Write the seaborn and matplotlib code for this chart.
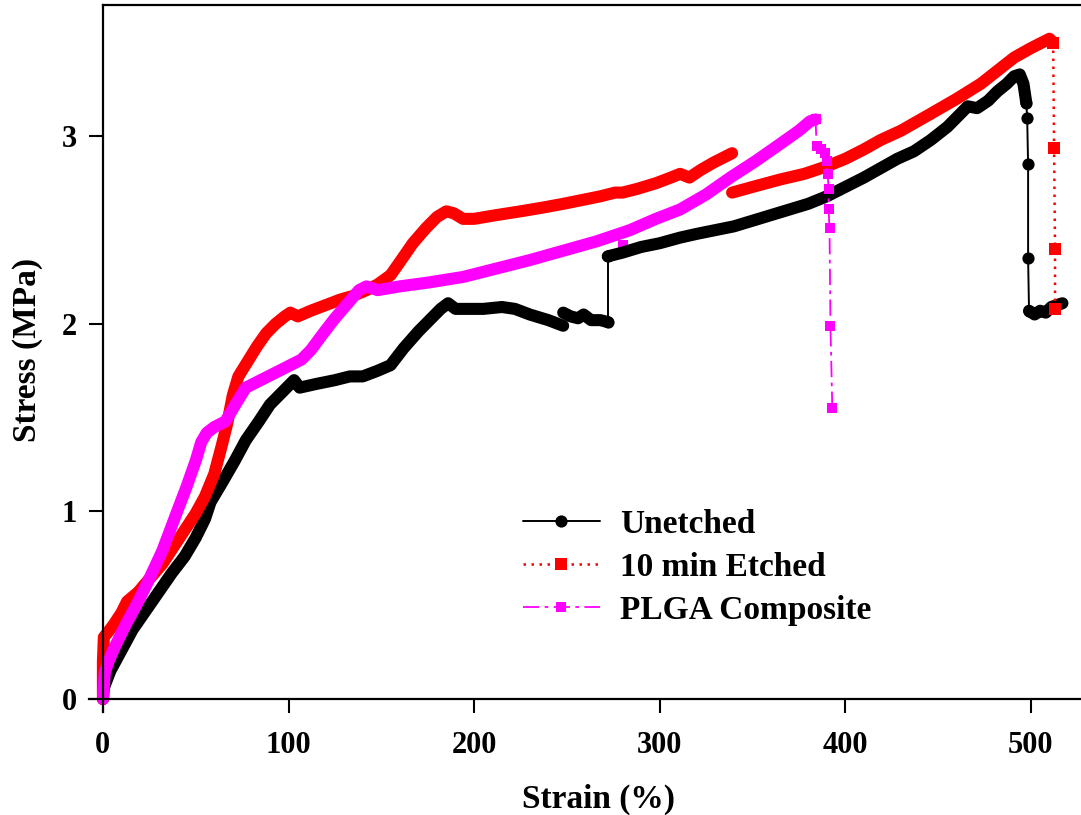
import numpy as np
import pandas as pd
import matplotlib
matplotlib.use("Agg")
import matplotlib.pyplot as plt
import seaborn as sns

# ---------------- data ----------------
# Unetched (black)
UNETCHED_A_STRAIN = [0, 0.5, 4, 10, 16, 23, 30, 37, 44, 50, 55, 58, 64, 71, 77, 84, 90, 95, 100, 103,
                     106, 115, 125, 133, 140, 148, 155, 162, 170, 176, 182, 186, 190, 195, 205, 215,
                     222, 230, 240, 248]
UNETCHED_A_STRESS = [0, 0.06, 0.15, 0.26, 0.37, 0.47, 0.57, 0.67, 0.76, 0.86, 0.96, 1.05, 1.15, 1.27,
                     1.38, 1.48, 1.57, 1.62, 1.67, 1.70, 1.66, 1.68, 1.70, 1.72, 1.72, 1.75, 1.78,
                     1.87, 1.96, 2.02, 2.08, 2.11, 2.08, 2.08, 2.08, 2.09, 2.08, 2.05, 2.02, 1.99]
UNETCHED_A2_STRAIN = [248, 252, 256, 259, 263, 268, 272]
UNETCHED_A2_STRESS = [2.06, 2.04, 2.03, 2.05, 2.02, 2.02, 2.01]
UNETCHED_B_STRAIN = [272, 280, 290, 300, 311, 320, 330, 340, 350, 360, 370, 380, 390, 400, 410, 419,
                     428, 437, 446, 455, 462, 466, 471, 477, 482, 487, 491, 494, 496, 497.5]
UNETCHED_B_STRESS = [2.36, 2.38, 2.41, 2.43, 2.46, 2.48, 2.50, 2.52, 2.55, 2.58, 2.61, 2.64, 2.68,
                     2.73, 2.78, 2.83, 2.88, 2.92, 2.98, 3.05, 3.12, 3.16, 3.15, 3.19, 3.24, 3.28,
                     3.32, 3.33, 3.28, 3.18]
UNETCHED_C_STRAIN = [499, 502, 505, 508, 511, 514, 517]
UNETCHED_C_STRESS = [2.07, 2.05, 2.07, 2.06, 2.09, 2.10, 2.11]
UNETCHED_JUMP_STRAIN = [272, 272]
UNETCHED_JUMP_STRESS = [2.01, 2.36]
UNETCHED_DROP_STRAIN = [497.5, 498, 498.5, 498.5, 499]
UNETCHED_DROP_STRESS = [3.18, 3.10, 2.85, 2.35, 2.07]

# 10 min Etched (red)
ETCHED_A_STRAIN = [0, 0, 0.5, 3, 6, 10, 13, 19, 25, 32, 38, 44, 50, 55, 60, 64, 67, 70, 73, 78, 83,
                   88, 93, 98, 101, 105, 112, 120, 128, 135, 142, 148, 155, 160, 167, 174, 180, 185,
                   189, 194, 200, 212, 225, 237, 248, 258, 268, 276, 280, 288, 298, 306, 311, 316,
                   322, 329, 335, 339]
ETCHED_A_STRESS = [0, 0.20, 0.33, 0.36, 0.40, 0.46, 0.52, 0.57, 0.64, 0.72, 0.81, 0.90, 0.99, 1.08,
                   1.20, 1.35, 1.47, 1.62, 1.72, 1.80, 1.88, 1.95, 2.00, 2.04, 2.06, 2.04, 2.07,
                   2.10, 2.13, 2.15, 2.18, 2.21, 2.26, 2.33, 2.43, 2.51, 2.57, 2.60, 2.59, 2.56,
                   2.56, 2.58, 2.60, 2.62, 2.64, 2.66, 2.68, 2.70, 2.70, 2.72, 2.75, 2.78, 2.80,
                   2.78, 2.82, 2.86, 2.89, 2.91]
ETCHED_B_STRAIN = [339, 350, 365, 378, 390, 400, 410, 419, 430, 446, 460, 473, 482, 491, 500, 506,
                   510, 512]
ETCHED_B_STRESS = [2.70, 2.73, 2.77, 2.80, 2.84, 2.88, 2.93, 2.98, 3.03, 3.12, 3.20, 3.28, 3.35,
                   3.42, 3.47, 3.50, 3.52, 3.50]
ETCHED_DROP_STRAIN = [512, 512.5, 513, 513]
ETCHED_DROP_STRESS = [3.50, 2.94, 2.40, 2.08]

# PLGA Composite (magenta)
PLGA_STRAIN = [0, 1, 3, 6.5, 10, 13, 18, 24, 32, 40, 45, 50, 53, 56, 60, 66, 72, 77, 85, 95, 101,
               107, 112, 118, 125, 132, 138, 142, 148, 160, 175, 194, 210, 230, 248, 266, 284,
               298, 311, 325, 338, 352, 365, 375, 381, 384]
PLGA_STRESS = [0, 0.14, 0.20, 0.28, 0.35, 0.41, 0.50, 0.62, 0.79, 1.00, 1.13, 1.27, 1.37, 1.42,
               1.45, 1.48, 1.58, 1.66, 1.70, 1.75, 1.78, 1.81, 1.86, 1.94, 2.03, 2.11, 2.18, 2.20,
               2.18, 2.20, 2.22, 2.25, 2.29, 2.34, 2.39, 2.44, 2.50, 2.56, 2.61, 2.69, 2.78, 2.87,
               2.96, 3.03, 3.08, 3.09]
PLGA_DROP_STRAIN = [384, 384.5, 387, 389, 390, 390.5, 391, 391, 391.5, 392, 393]
PLGA_DROP_STRESS = [3.09, 2.95, 2.93, 2.91, 2.87, 2.80, 2.72, 2.61, 2.51, 1.99, 1.55]
PLGA_STRAY_STRAIN = [280]
PLGA_STRAY_STRESS = [2.42]

X_TICKS = [0, 100, 200, 300, 400, 500]
Y_TICKS = [0, 1, 2, 3]
X_LABEL = "Strain (%)"
Y_LABEL = "Stress (MPa)"
LABELS = ["Unetched", "10 min Etched", "PLGA Composite"]

# ---------------- style ----------------
sns.set_theme(style="white")
plt.rcParams["font.family"] = ["Liberation Serif", "DejaVu Serif"]
plt.rcParams["font.weight"] = "bold"
plt.rcParams["axes.labelweight"] = "bold"
plt.rcParams["text.color"] = "black"
plt.rcParams["axes.labelcolor"] = "black"

BLACK = "#000000"
RED = "#FF0000"
MAGENTA = "#FF00FF"
BAND = 8.7

fig = plt.figure(figsize=(10.81, 8.15), dpi=100)
ax = fig.add_axes([89 / 1081, 103 / 815, 992 / 1081, 707 / 815])


def body(pieces, color):
    rows = []
    for i, (xs, ys) in enumerate(pieces):
        for x, y in zip(xs, ys):
            rows.append((i, x, y))
    df = pd.DataFrame(rows, columns=["piece", "strain", "stress"])
    sns.lineplot(data=df, x="strain", y="stress", units="piece", estimator=None, sort=False,
                 color=color, lw=BAND, solid_capstyle="round", solid_joinstyle="round",
                 legend=False, ax=ax)


def thin(xs, ys, color, ls, lw, marker, ms, label=None):
    df = pd.DataFrame({"strain": xs, "stress": ys})
    kw = dict(data=df, x="strain", y="stress", estimator=None, sort=False, color=color,
              linestyle=ls, lw=lw, marker=marker, markersize=ms, markeredgewidth=0,
              markerfacecolor=color, ax=ax)
    if label is not None:
        kw["label"] = label
    sns.lineplot(**kw)


# Unetched
body([(UNETCHED_A_STRAIN, UNETCHED_A_STRESS), (UNETCHED_A2_STRAIN, UNETCHED_A2_STRESS),
      (UNETCHED_B_STRAIN, UNETCHED_B_STRESS), (UNETCHED_C_STRAIN, UNETCHED_C_STRESS)], BLACK)
thin(UNETCHED_JUMP_STRAIN, UNETCHED_JUMP_STRESS, BLACK, "-", 1.4, "o", 8.8)
thin(UNETCHED_DROP_STRAIN, UNETCHED_DROP_STRESS, BLACK, "-", 1.4, "o", 8.8, LABELS[0])

# 10 min Etched
body([(ETCHED_A_STRAIN, ETCHED_A_STRESS), (ETCHED_B_STRAIN, ETCHED_B_STRESS)], RED)
thin(ETCHED_DROP_STRAIN, ETCHED_DROP_STRESS, RED, (0, (1, 2.2)), 1.8, "s", 8.0, LABELS[1])

# PLGA Composite
body([(PLGA_STRAIN, PLGA_STRESS)], MAGENTA)
thin(PLGA_DROP_STRAIN, PLGA_DROP_STRESS, MAGENTA, (0, (9, 3, 2, 3)), 1.3, "s", 7.0, LABELS[2])
sns.scatterplot(x=PLGA_STRAY_STRAIN, y=PLGA_STRAY_STRESS, color=MAGENTA, marker="s", s=45,
                linewidth=0, legend=False, ax=ax)

# ---------------- axes ----------------
ax.set_xlim(-7.5, 527)
ax.set_ylim(-0.069, 3.70)
ax.set_xticks(X_TICKS)
ax.set_yticks(Y_TICKS)
ax.set_xticklabels([str(t) for t in X_TICKS])
ax.set_yticklabels([str(t) for t in Y_TICKS])

for side in ["left", "bottom", "top"]:
    ax.spines[side].set_visible(True)
    ax.spines[side].set_color("black")
    ax.spines[side].set_linewidth(1.6)
ax.spines["right"].set_visible(False)
ax.spines["left"].set_position(("data", 0))
ax.spines["bottom"].set_position(("data", 0))
ax.spines["top"].set_bounds(0, 527)

ax.tick_params(axis="both", which="major", direction="out", length=10, width=1.5,
               color="black", labelsize=22, labelcolor="black")
ax.tick_params(axis="x", pad=13, bottom=True, top=False)
ax.tick_params(axis="y", pad=9, left=True, right=False)
for lab in ax.get_xticklabels() + ax.get_yticklabels():
    lab.set_fontweight("bold")

ax.set_xlabel(X_LABEL, fontsize=24, fontweight="bold", color="black")
ax.set_ylabel(Y_LABEL, fontsize=24, fontweight="bold", color="black")
ax.xaxis.set_label_coords((599 - 89) / 992, (712 - 799) / 707)
ax.yaxis.set_label_coords((28 - 89) / 992, (712 - 350) / 707)
ax.xaxis.label.set_va("center")
ax.yaxis.label.set_va("center")
ax.yaxis.label.set_ha("center")
ax.grid(False)

leg = ax.legend(loc="upper left", bbox_to_anchor=((523 - 89) / 992, (712 - 509) / 707),
                frameon=False, fontsize=24, handlelength=2.3, handletextpad=0.6,
                labelspacing=0.36, borderpad=0, borderaxespad=0, numpoints=1)
for t in leg.get_texts():
    t.set_fontweight("bold")
    t.set_color("black")

fig.savefig("out.png", dpi=100)
